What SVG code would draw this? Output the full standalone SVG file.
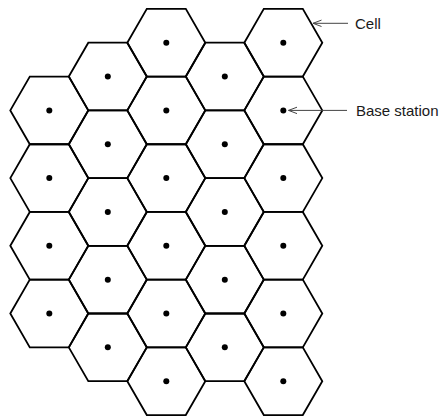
<svg xmlns="http://www.w3.org/2000/svg" xmlns:xlink="http://www.w3.org/1999/xlink" width="446" height="416" viewBox="0 0 446 416">
<style>
.hex{fill:none;stroke:#000;stroke-width:1.8;stroke-linejoin:miter}
.dot{fill:#000}
.conn{stroke:#444;stroke-width:1;fill:none}
.lbl{font-family:"Liberation Sans",Arial,sans-serif;font-size:15px;fill:#1a1a1a}
</style>
<defs>
<polygon id="hex" class="hex" points="-39,0 -19.5,-33.85 19.5,-33.85 39,0 19.5,33.85 -19.5,33.85"/>
<circle id="dot" class="dot" r="3"/>
<marker id="open" viewBox="0 0 10 8" refX="9.5" refY="4" markerWidth="10" markerHeight="8" markerUnits="userSpaceOnUse" orient="auto">
<path d="M1,0.8 L9.5,4 L1,7.2" fill="none" stroke="#444" stroke-width="1"/>
</marker>
</defs>
<rect width="446" height="416" fill="#fff"/>
<g id="cells">
<g id="c1r1" transform="translate(49.3,110.4)"><use href="#hex"/><use href="#dot"/></g>
<g id="c1r2" transform="translate(49.3,178.1)"><use href="#hex"/><use href="#dot"/></g>
<g id="c1r3" transform="translate(49.3,245.8)"><use href="#hex"/><use href="#dot"/></g>
<g id="c1r4" transform="translate(49.3,313.5)"><use href="#hex"/><use href="#dot"/></g>
<g id="c2r1" transform="translate(107.8,76.55)"><use href="#hex"/><use href="#dot"/></g>
<g id="c2r2" transform="translate(107.8,144.25)"><use href="#hex"/><use href="#dot"/></g>
<g id="c2r3" transform="translate(107.8,211.95)"><use href="#hex"/><use href="#dot"/></g>
<g id="c2r4" transform="translate(107.8,279.65)"><use href="#hex"/><use href="#dot"/></g>
<g id="c2r5" transform="translate(107.8,347.35)"><use href="#hex"/><use href="#dot"/></g>
<g id="c3r1" transform="translate(166.3,42.7)"><use href="#hex"/><use href="#dot"/></g>
<g id="c3r2" transform="translate(166.3,110.4)"><use href="#hex"/><use href="#dot"/></g>
<g id="c3r3" transform="translate(166.3,178.1)"><use href="#hex"/><use href="#dot"/></g>
<g id="c3r4" transform="translate(166.3,245.8)"><use href="#hex"/><use href="#dot"/></g>
<g id="c3r5" transform="translate(166.3,313.5)"><use href="#hex"/><use href="#dot"/></g>
<g id="c3r6" transform="translate(166.3,381.2)"><use href="#hex"/><use href="#dot"/></g>
<g id="c4r1" transform="translate(224.8,76.55)"><use href="#hex"/><use href="#dot"/></g>
<g id="c4r2" transform="translate(224.8,144.25)"><use href="#hex"/><use href="#dot"/></g>
<g id="c4r3" transform="translate(224.8,211.95)"><use href="#hex"/><use href="#dot"/></g>
<g id="c4r4" transform="translate(224.8,279.65)"><use href="#hex"/><use href="#dot"/></g>
<g id="c4r5" transform="translate(224.8,347.35)"><use href="#hex"/><use href="#dot"/></g>
<g id="c5r1" transform="translate(283.3,42.7)"><use href="#hex"/><use href="#dot"/></g>
<g id="c5r2" transform="translate(283.3,110.4)"><use href="#hex"/><use href="#dot"/></g>
<g id="c5r3" transform="translate(283.3,178.1)"><use href="#hex"/><use href="#dot"/></g>
<g id="c5r4" transform="translate(283.3,245.8)"><use href="#hex"/><use href="#dot"/></g>
<g id="c5r5" transform="translate(283.3,313.5)"><use href="#hex"/><use href="#dot"/></g>
<g id="c5r6" transform="translate(283.3,381.2)"><use href="#hex"/><use href="#dot"/></g>
</g>
<g id="connectors">
<line class="conn" x1="348" y1="23.3" x2="313" y2="23.3" marker-end="url(#open)"/>
<line class="conn" x1="347" y1="110.4" x2="288.5" y2="110.4" marker-end="url(#open)"/>
</g>
<g id="label-cell"><text class="lbl" x="355" y="28.5">Cell</text></g>
<g id="label-base"><text class="lbl" x="356" y="115.5">Base station</text></g>
</svg>
